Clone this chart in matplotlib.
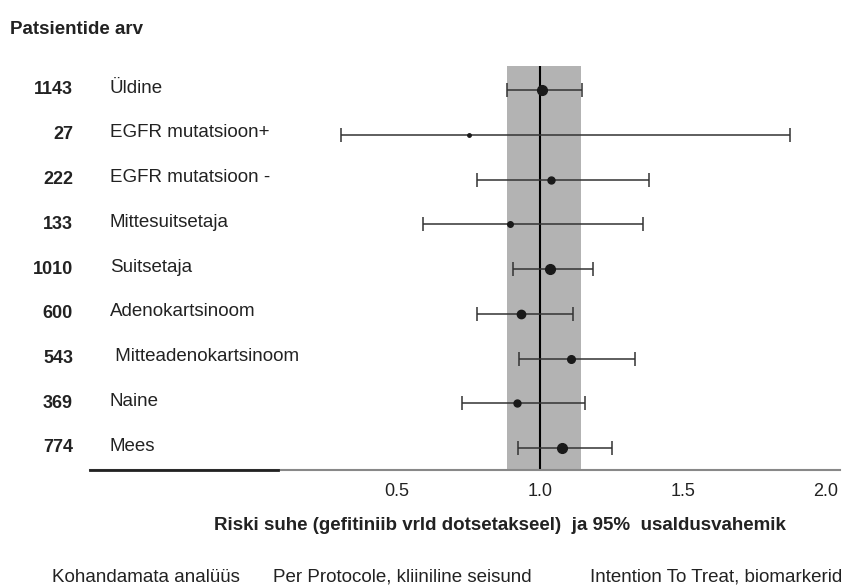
import matplotlib
matplotlib.use("Agg")
import matplotlib.pyplot as plt
import matplotlib.transforms as mtransforms

plt.rcParams['font.family'] = ['Liberation Sans', 'DejaVu Sans']

counts = ["1143", "27", "222", "133", "1010", "600", "543", "369", "774"]
groups = ["Üldine", "EGFR mutatsioon+", "EGFR mutatsioon -", "Mittesuitsetaja",
          "Suitsetaja", "Adenokartsinoom", " Mitteadenokartsinoom", "Naine", "Mees"]
hr = [1.007, 0.752, 1.038, 0.894, 1.035, 0.934, 1.108, 0.919, 1.076]
ci_low = [0.885, 0.303, 0.781, 0.590, 0.905, 0.781, 0.926, 0.729, 0.922]
ci_high = [1.146, 1.874, 1.380, 1.359, 1.185, 1.117, 1.332, 1.157, 1.252]
marker_sizes = [7, 2.5, 5, 4, 7, 6, 5.5, 5, 7]
band = (0.885, 1.143)
xticks = [0.5, 1.0, 1.5, 2.0]
xtick_labels = ["0.5", "1.0", "1.5", "2.0"]
title = "Patsientide arv"
xlabel = "Riski suhe (gefitiniib vrld dotsetakseel)  ja 95%  usaldusvahemik"
footer = ["Kohandamata analüüs", "Per Protocole, kliiniline seisund",
          "Intention To Treat, biomarkerid"]

TXT = "#222222"
W, H = 851, 587
fig = plt.figure(figsize=(W / 100, H / 100), dpi=100)
ax_l, ax_r, ax_t, ax_b = 90, 840, 66, 470
ax = fig.add_axes([ax_l / W, 1 - ax_b / H, (ax_r - ax_l) / W, (ax_b - ax_t) / H])

x0 = 1 + (ax_l - 540) / 286
x1 = 1 + (ax_r - 540) / 286
ax.set_xlim(x0, x1)
row_sp = 44.75
ax.set_ylim((ax_b - 90) / row_sp, (ax_t - 90) / row_sp)

ax.axvspan(band[0], band[1], color="#b3b3b3", lw=0, zorder=0)
ax.axvline(1.0, color="black", lw=1.5, zorder=2)

for i in range(len(groups)):
    ax.errorbar(hr[i], i, xerr=[[hr[i] - ci_low[i]], [ci_high[i] - hr[i]]],
                fmt="o", color="#1a1a1a", ecolor="#333333", elinewidth=1.1,
                capsize=5, capthick=1.1, markersize=marker_sizes[i], zorder=3)

for s in ["top", "right", "left"]:
    ax.spines[s].set_visible(False)
ax.spines["bottom"].set_color("#888888")
ax.spines["bottom"].set_linewidth(1.5)
ax.plot([0, (278 - ax_l) / (ax_r - ax_l)], [0, 0], transform=ax.transAxes,
        color="#222222", lw=2, clip_on=False, zorder=5)

ax.set_yticks([])
ax.set_xticks(xticks)
ax.set_xticklabels(xtick_labels, fontsize=13, color=TXT)
ax.tick_params(axis="x", length=0, pad=9)

trans = mtransforms.blended_transform_factory(fig.transFigure, ax.transData)
for i in range(len(groups)):
    fig.text(73 / W, i, counts[i], transform=trans, ha="right", va="center",
             fontsize=13, fontweight="bold", color=TXT)
    fig.text(110 / W, i - 0.04, groups[i], transform=trans, ha="left", va="center",
             fontsize=13.5, color=TXT)

fig.text(10 / W, 1 - 30 / H, title, ha="left", va="center",
         fontsize=13.5, fontweight="bold", color=TXT)
fig.text(500 / W, 1 - 525 / H, xlabel, ha="center", va="center",
         fontsize=13.5, fontweight="bold", color=TXT)
fig.text(52 / W, 1 - 577 / H, footer[0], ha="left", va="center",
         fontsize=13.5, color=TXT)
fig.text(273 / W, 1 - 577 / H, footer[1], ha="left", va="center",
         fontsize=13.5, color=TXT)
fig.text(842 / W, 1 - 577 / H, footer[2], ha="right", va="center",
         fontsize=13.5, color=TXT)

fig.savefig("out.png", dpi=100)
